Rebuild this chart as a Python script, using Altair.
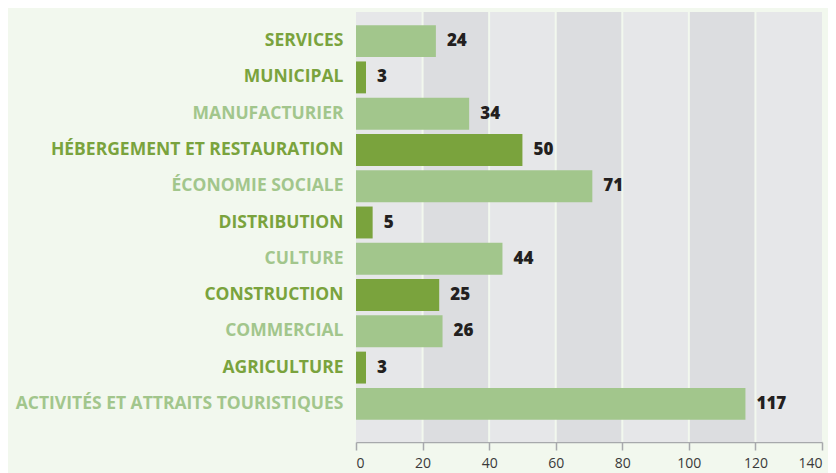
import altair as alt
import pandas as pd

categories = [
    "SERVICES", "MUNICIPAL", "MANUFACTURIER", "HÉBERGEMENT ET RESTAURATION",
    "ÉCONOMIE SOCIALE", "DISTRIBUTION", "CULTURE", "CONSTRUCTION",
    "COMMERCIAL", "AGRICULTURE", "ACTIVITÉS ET ATTRAITS TOURISTIQUES",
]
values = [24, 3, 34, 50, 71, 5, 44, 25, 26, 3, 117]
bar_shade = ["light", "dark", "light", "dark", "light", "dark", "light", "dark", "light", "dark", "light"]
label_shade = ["dark", "dark", "light", "dark", "light", "dark", "light", "dark", "light", "dark", "light"]

band_starts = [0, 20, 40, 60, 80, 100, 120]
band_shade = ["a", "b", "a", "b", "a", "b", "a"]
grid_values = [20, 40, 60, 80, 100, 120]
x_ticks = [0, 20, 40, 60, 80, 100, 120, 140]

BG = "#f2f8ee"
DARK = "#7aa33d"
LIGHT = "#a2c68c"
TEXT = "#231f20"
FONT = "Open Sans"

df = pd.DataFrame({"cat": categories, "value": values, "shade": bar_shade})
bands = pd.DataFrame({"x": band_starts, "x2": [s + 20 for s in band_starts], "shade": band_shade})
grid = pd.DataFrame({"x": grid_values})

label_color_expr = " ".join(
    f"datum.value === '{c}' ? '{DARK if s == 'dark' else LIGHT}' :" for c, s in zip(categories, label_shade)
) + f" '{LIGHT}'"

xscale = alt.Scale(domain=[0, 140], nice=False)

band_layer = alt.Chart(bands).mark_rect().encode(
    x=alt.X("x:Q", scale=xscale,
            axis=alt.Axis(values=x_ticks, grid=False, domainColor="#a7a9ac", tickColor="#a7a9ac",
                          tickSize=8, labelFont=FONT, labelFontSize=14, labelColor="#3a3a3a",
                          labelPadding=6, title=None, domainWidth=1.5, tickWidth=1.5)),
    x2="x2:Q",
    y=alt.value(0),
    y2=alt.value(430),
    color=alt.Color("shade:N", scale=alt.Scale(domain=["a", "b"], range=["#e6e7e9", "#dcdde0"]), legend=None),
)

grid_layer = alt.Chart(grid).mark_rule(color=BG, strokeWidth=2).encode(
    x=alt.X("x:Q", scale=xscale),
    y=alt.value(0),
    y2=alt.value(430),
)

yenc = alt.Y("cat:N", sort=categories,
             scale=alt.Scale(range=[11, 410], paddingInner=0.12, paddingOuter=0.06),
             axis=alt.Axis(title=None, domain=False, ticks=False, labelFont=FONT, labelFontSize=17.5,
                           labelFontWeight="bold", labelPadding=13, labelLimit=400,
                           labelColor=alt.ExprRef(label_color_expr)))

bar_layer = alt.Chart(df).mark_bar().encode(
    x=alt.X("value:Q", scale=xscale),
    y=yenc,
    color=alt.Color("shade:N", scale=alt.Scale(domain=["dark", "light"], range=[DARK, LIGHT]), legend=None),
)

text_layer = alt.Chart(df).mark_text(align="left", baseline="middle", dx=11, font=FONT,
                                     fontSize=17, fontWeight=800, color=TEXT).encode(
    x=alt.X("value:Q", scale=xscale),
    y=alt.Y("cat:N", sort=categories),
    text="value:Q",
)

chart = alt.layer(band_layer, grid_layer, bar_layer, text_layer).resolve_scale(color="independent").properties(
    width=466, height=430,
    autosize=alt.AutoSizeParams(type="none"),
    padding={"left": 348, "top": 4, "right": 6, "bottom": 31},
    background=BG,
).configure_view(stroke=None)

chart.save("out.html", embed_options={"renderer": "svg", "actions": False})
